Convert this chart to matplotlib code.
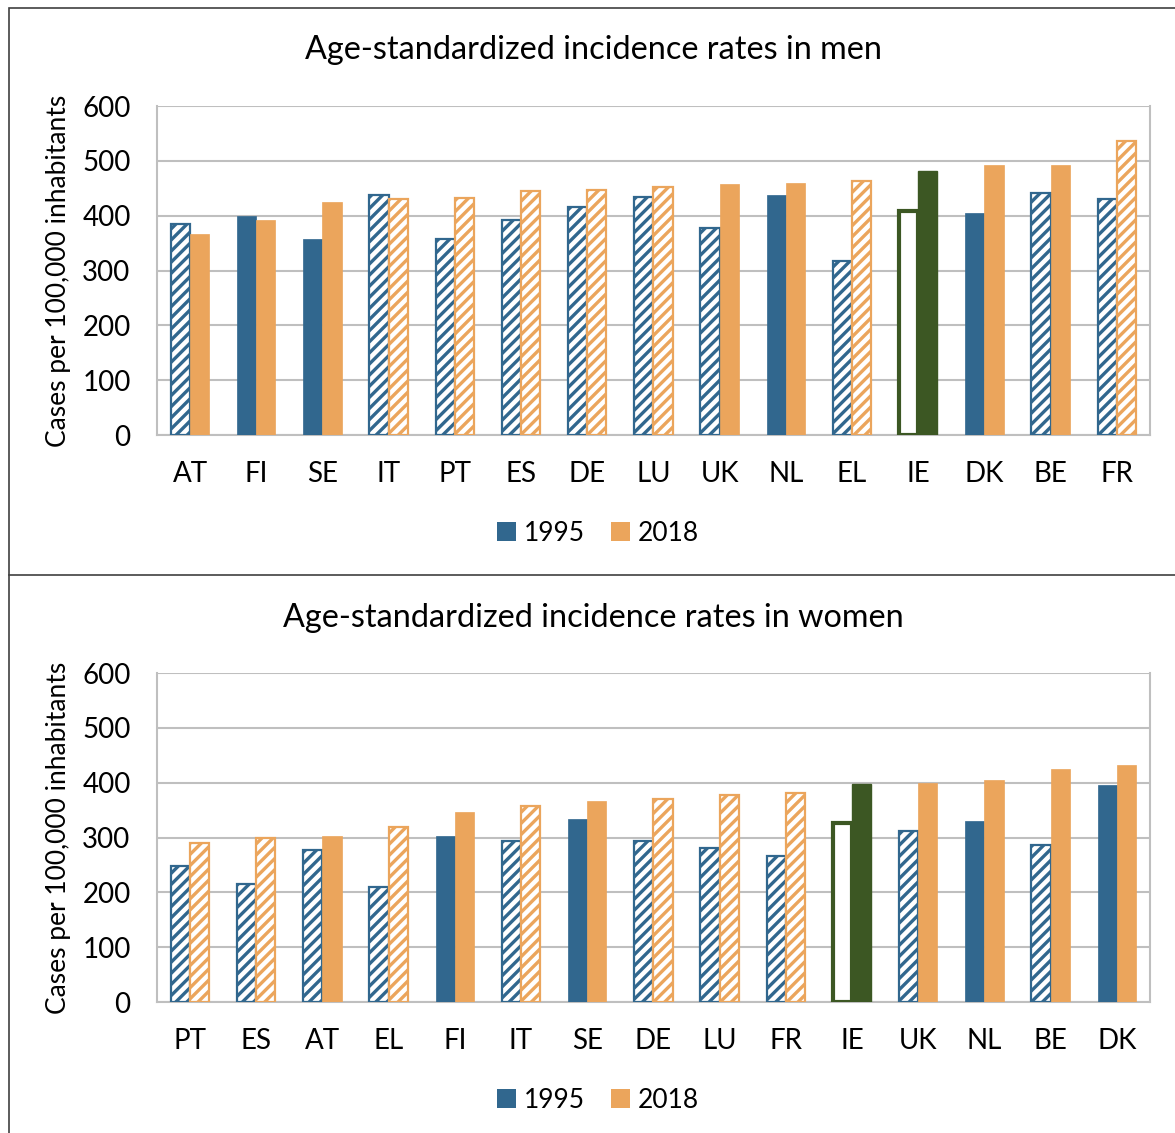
import matplotlib.pyplot as plt
from matplotlib.patches import Patch, Rectangle
from matplotlib.lines import Line2D
from matplotlib.backend_bases import GraphicsContextBase
import numpy as np

plt.rcParams['font.family'] = ['Lato', 'DejaVu Sans']
plt.rcParams['hatch.linewidth'] = 2.4

# denser stripes than the default hatch density
_hatch_path = GraphicsContextBase.get_hatch_path


def _dense_hatch(self, density=9):
    return _hatch_path(self, density)


GraphicsContextBase.get_hatch_path = _dense_hatch

BLUE = '#31678e'
ORANGE = '#eba55c'
GREEN = '#3c5723'
GRID = '#bfbfbf'

# men
men_countries = ['AT', 'FI', 'SE', 'IT', 'PT', 'ES', 'DE', 'LU', 'UK', 'NL', 'EL', 'IE', 'DK', 'BE', 'FR']
men_1995 = [385, 400, 358, 438, 358, 392, 416, 435, 378, 438, 317, 408, 405, 441, 430]
men_2018 = [367, 392, 425, 431, 432, 445, 446, 452, 457, 459, 464, 482, 492, 493, 536]
# 1 = hatched bar, 0 = solid bar
men_hatch_1995 = [1, 0, 0, 1, 1, 1, 1, 1, 1, 0, 1, 0, 0, 1, 1]
men_hatch_2018 = [0, 0, 0, 1, 1, 1, 1, 1, 0, 0, 1, 0, 0, 0, 1]

# women
women_countries = ['PT', 'ES', 'AT', 'EL', 'FI', 'IT', 'SE', 'DE', 'LU', 'FR', 'IE', 'UK', 'NL', 'BE', 'DK']
women_1995 = [248, 215, 278, 209, 302, 294, 334, 293, 281, 267, 326, 312, 331, 287, 396]
women_2018 = [290, 299, 303, 319, 347, 357, 367, 370, 378, 382, 398, 400, 405, 425, 433]
women_hatch_1995 = [1, 1, 1, 1, 0, 1, 0, 1, 1, 1, 0, 1, 0, 1, 0]
women_hatch_2018 = [1, 1, 0, 1, 0, 1, 0, 1, 1, 1, 0, 0, 0, 0, 0]

HIGHLIGHT = 'IE'


def draw_panel(ax, countries, v95, v18, h95, h18, title, fig, title_y, legend_y):
    x = np.arange(len(countries))
    w = 0.29
    for i, c in enumerate(countries):
        if c == HIGHLIGHT:
            ax.bar(x[i] - w / 2, v95[i], w, facecolor='white', edgecolor=GREEN, linewidth=3, zorder=3)
            ax.bar(x[i] + w / 2, v18[i], w, facecolor=GREEN, edgecolor=GREEN, linewidth=1, zorder=3)
            continue
        for xi, v, h, col in ((x[i] - w / 2, v95[i], h95[i], BLUE), (x[i] + w / 2, v18[i], h18[i], ORANGE)):
            if h:
                ax.bar(xi, v, w, facecolor='white', edgecolor=col, hatch='//', linewidth=1.6, zorder=3)
            else:
                ax.bar(xi, v, w, facecolor=col, edgecolor=col, linewidth=0.5, zorder=3)
    ax.set_ylim(0, 600)
    ax.set_xlim(-0.5, len(countries) - 0.5)
    ax.set_yticks(range(0, 601, 100))
    ax.set_xticks(x)
    ax.set_xticklabels(countries)
    ax.yaxis.grid(True, color=GRID, linewidth=1.5, zorder=0)
    ax.set_axisbelow(True)
    ax.tick_params(axis='both', length=0, labelsize=20, colors='black')
    ax.tick_params(axis='y', pad=19)
    ax.tick_params(axis='x', pad=19)
    for s in ('left', 'bottom', 'right'):
        ax.spines[s].set_color(GRID)
        ax.spines[s].set_linewidth(1.5)
    ax.spines['top'].set_visible(False)
    ax.set_ylabel('Cases per 100,000 inhabitants', fontsize=19, labelpad=8)
    fig.text(0.505, title_y, title, ha='center', va='center', fontsize=23.3)
    handles = [Patch(facecolor=BLUE, edgecolor='none'), Patch(facecolor=ORANGE, edgecolor='none')]
    fig.legend(handles, ['1995', '2018'], loc='center', bbox_to_anchor=(0.509, legend_y), ncol=2,
               frameon=False, fontsize=19, handlelength=0.7, handleheight=0.7,
               handletextpad=0.3, columnspacing=1.0)


fig = plt.figure(figsize=(11.75, 11.33), dpi=100)
ax1 = fig.add_axes([0.1336, 0.616, 0.845, 0.2904])
ax2 = fig.add_axes([0.1336, 0.1156, 0.845, 0.2904])

draw_panel(ax1, men_countries, men_1995, men_2018, men_hatch_1995, men_hatch_2018,
           'Age-standardized incidence rates in men', fig, 1 - 50 / 1133, 1 - 533 / 1133)
draw_panel(ax2, women_countries, women_1995, women_2018, women_hatch_1995, women_hatch_2018,
           'Age-standardized incidence rates in women', fig, 1 - 618 / 1133, 1 - 1100 / 1133)

# frame around both panels and the divider between them
fig.patches.append(Rectangle((9 / 1175, -0.01), 1.5, 1 - 8 / 1133 + 0.01, transform=fig.transFigure,
                             fill=False, edgecolor='#404040', linewidth=1.2))
fig.lines.append(Line2D([9 / 1175, 1], [1 - 575 / 1133, 1 - 575 / 1133], transform=fig.transFigure,
                        color='#404040', linewidth=1.2))

fig.savefig('out.png', dpi=100)
